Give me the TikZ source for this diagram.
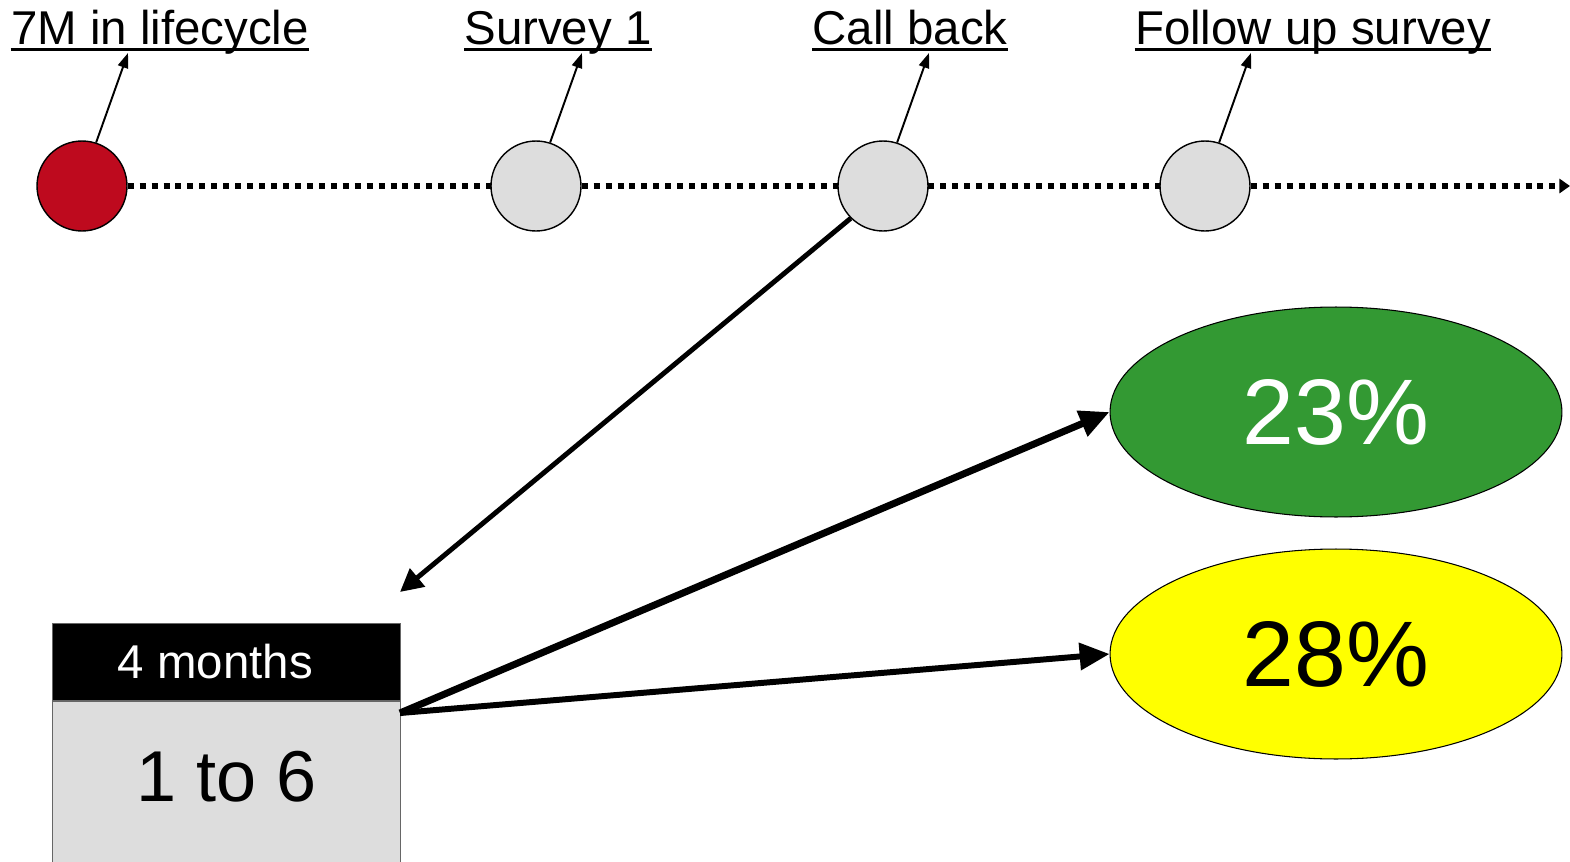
\documentclass[tikz,border=0pt]{standalone}
\usepackage{fontspec}
\setmainfont{Liberation Sans}
\usetikzlibrary{arrows, arrows.meta, shapes.geometric}
\pgfdeclarelayer{background}
\pgfsetlayers{background,main}
\definecolor{stagered}{HTML}{BE0A1E}
\definecolor{stagegray}{HTML}{DDDDDD}
\definecolor{okgreen}{HTML}{339933}
\definecolor{okyellow}{HTML}{FFFF00}
\newcommand{\setsz}[1]{\fontsize{#1}{#1}\selectfont}

\begin{document}
\begin{tikzpicture}[x=0.02cm,y=-0.02cm,>={Triangle[length=8.5pt,width=6pt]}]
  % styles
  \tikzstyle{stage} = [circle,draw=black,line width=0.8pt,fill=stagegray,minimum size=1.8cm,inner sep=0pt];
  \tikzstyle{lbl} = [anchor=base,inner sep=0pt,font=\setsz{27}];
  \tikzstyle{result} = [ellipse,draw=black,line width=0.6pt,minimum width=9.04cm,minimum height=4.2cm,inner sep=0pt,font=\setsz{53}];
  \tikzstyle{cell} = [rectangle,draw=black!60,line width=0.6pt,minimum width=6.96cm,inner sep=0pt];

  \useasboundingbox (0,0) rectangle (1570,862);

  % nodes
  \node[stage,fill=stagered] (life) at (82,186) {};
  \node[stage] (survey) at (536,186) {};
  \node[stage] (callback) at (883,186) {};
  \node[stage] (followup) at (1205,186) {};

  \node[lbl] (lifelbl) at (160,45) {7M in lifecycle};
  \node[lbl] (surveylbl) at (558,45) {Survey 1};
  \node[lbl] (callbacklbl) at (910,45) {Call back};
  \node[lbl] (followuplbl) at (1313,45) {Follow up survey};

  \node[result,fill=okgreen,text=white] (green) at (1336,412) {23\%};
  \node[result,fill=okyellow] (yellow) at (1336,654) {28\%};

  \node[cell,fill=black,minimum height=1.54cm,anchor=north west] (months) at (52,623) {};
  \node[text=white,font=\setsz{27},xshift=-11*0.02cm] (monthstext) at (months) {4 months};
  \node[cell,fill=stagegray,minimum height=4cm,text height=1cm,text depth=1cm,anchor=north,font=\setsz{41}] (range) at (months.south) {1 to 6};

  % free ends
  \coordinate (tend) at (1570,186);
  \coordinate (lifetip) at (128,53);
  \coordinate (surveytip) at (582,53);
  \coordinate (callbacktip) at (929,53);
  \coordinate (followuptip) at (1251,53);
  \coordinate (boxtip) at (400,592);
  \coordinate (split) at (400,713);

  \begin{pgfonlayer}{background}
  % edges
  \draw[line width=3.4pt,dash pattern=on 3.4pt off 3.4pt,-{Triangle[length=6pt,width=8pt]}] (life) -- (tend);
  \end{pgfonlayer}

  \foreach \s in {life,survey,callback,followup}
    \draw[->,line width=1.1pt] (\s.72) -- (\s tip);
  \foreach \s in {lifelbl,surveylbl,callbacklbl,followuplbl}
    \draw[line width=1.7pt] ([yshift=-2.8pt]\s.base west) -- ([yshift=-2.8pt]\s.base east);

  \draw[line width=2.8pt,-{Triangle[length=13pt,width=13pt]}] (callback.225) -- (boxtip);
  \draw[line width=4pt,-{Triangle[length=17pt,width=15pt]}] (split) -- (green.west);
  \draw[line width=3.4pt,-{Triangle[length=17pt,width=15pt]}] (split) -- (yellow.west);
\end{tikzpicture}
\end{document}
